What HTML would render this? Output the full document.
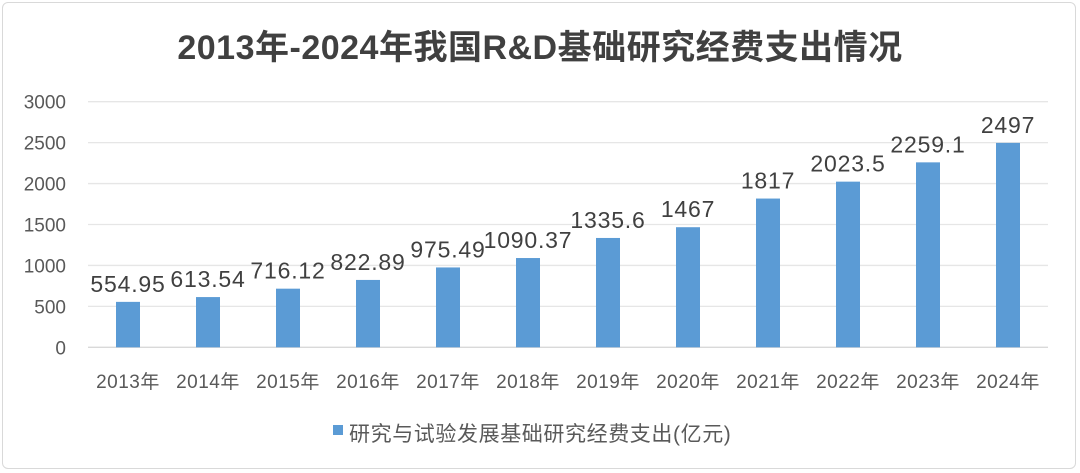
<!DOCTYPE html>
<html><head><meta charset="utf-8"><style>
html,body{margin:0;padding:0;background:#fff;}
body{width:1080px;height:473px;overflow:hidden;font-family:"Liberation Sans","Noto Sans CJK SC",sans-serif;}
#frame{position:absolute;left:2px;top:2px;width:1074px;height:467px;border:1px solid #d9d9d9;border-radius:6px;box-sizing:border-box;}
</style></head><body>
<div id="frame"></div>
<svg id="chart" width="1080" height="473" style="position:absolute;left:0;top:0">
<text x="540" y="59" text-anchor="middle" font-size="34" font-weight="bold" fill="#404040" letter-spacing="0.5" font-family="Liberation Sans,Noto Sans CJK SC,sans-serif">2013年-2024年我国R&amp;D基础研究经费支出情况</text>
<g id="grid"></g><g id="bars"></g><g id="labels"></g>
<rect x="333" y="425" width="10" height="10" fill="#5b9bd5"/>
<text x="349" y="441" font-size="21" fill="#595959" letter-spacing="0.6" font-family="Liberation Sans,Noto Sans CJK SC,sans-serif">研究与试验发展基础研究经费支出(亿元)</text>
</svg>
<script>
const categories=["2013年","2014年","2015年","2016年","2017年","2018年","2019年","2020年","2021年","2022年","2023年","2024年"];
const values=[554.95,613.54,716.12,822.89,975.49,1090.37,1335.6,1467,1817,2023.5,2259.1,2497];
const valueLabels=["554.95","613.54","716.12","822.89","975.49","1090.37","1335.6","1467","1817","2023.5","2259.1","2497"];
const yTicks=[0,500,1000,1500,2000,2500,3000];
const NS="http://www.w3.org/2000/svg";
const x0=88,band=80,yBase=347.3,yTop=101.7,yMax=3000;
const y=v=>yBase-(v/yMax)*(yBase-yTop);
const xc=i=>x0+band*(i+0.5);
const grid=document.getElementById('grid'),bars=document.getElementById('bars'),labels=document.getElementById('labels');
function mk(tag,attrs,parent,text){const e=document.createElementNS(NS,tag);for(const k in attrs)e.setAttribute(k,attrs[k]);if(text!==undefined)e.textContent=text;parent.appendChild(e);return e;}
const ff="Liberation Sans,Noto Sans CJK SC,sans-serif";
yTicks.forEach(t=>{
  const l=mk('line',{x1:x0,x2:1048,y1:y(t),y2:y(t),stroke:t===0?'#d9d9d9':'#e6e6e6','stroke-width':1.3},grid);
  
  
  const tx=mk('text',{x:66,y:y(t)+7,'text-anchor':'end','font-size':19,fill:'#595959','font-family':ff},grid,String(t));
  
  
});
categories.forEach((c,i)=>{
  const r=mk('rect',{x:xc(i)-12,y:y(values[i]),width:24,height:yBase-y(values[i]),fill:'#5b9bd5'},bars);
  
  
  const v=mk('text',{x:xc(i),y:y(values[i])-10,'text-anchor':'middle','font-size':23,'letter-spacing':0.8,fill:'#404040','font-family':ff},labels,valueLabels[i]);
  
  
  const xl=mk('text',{x:xc(i),y:388,'text-anchor':'middle','font-size':19,'letter-spacing':0.5,fill:'#595959','font-family':ff},labels,c);
  
  
});
</script>
</body></html>
